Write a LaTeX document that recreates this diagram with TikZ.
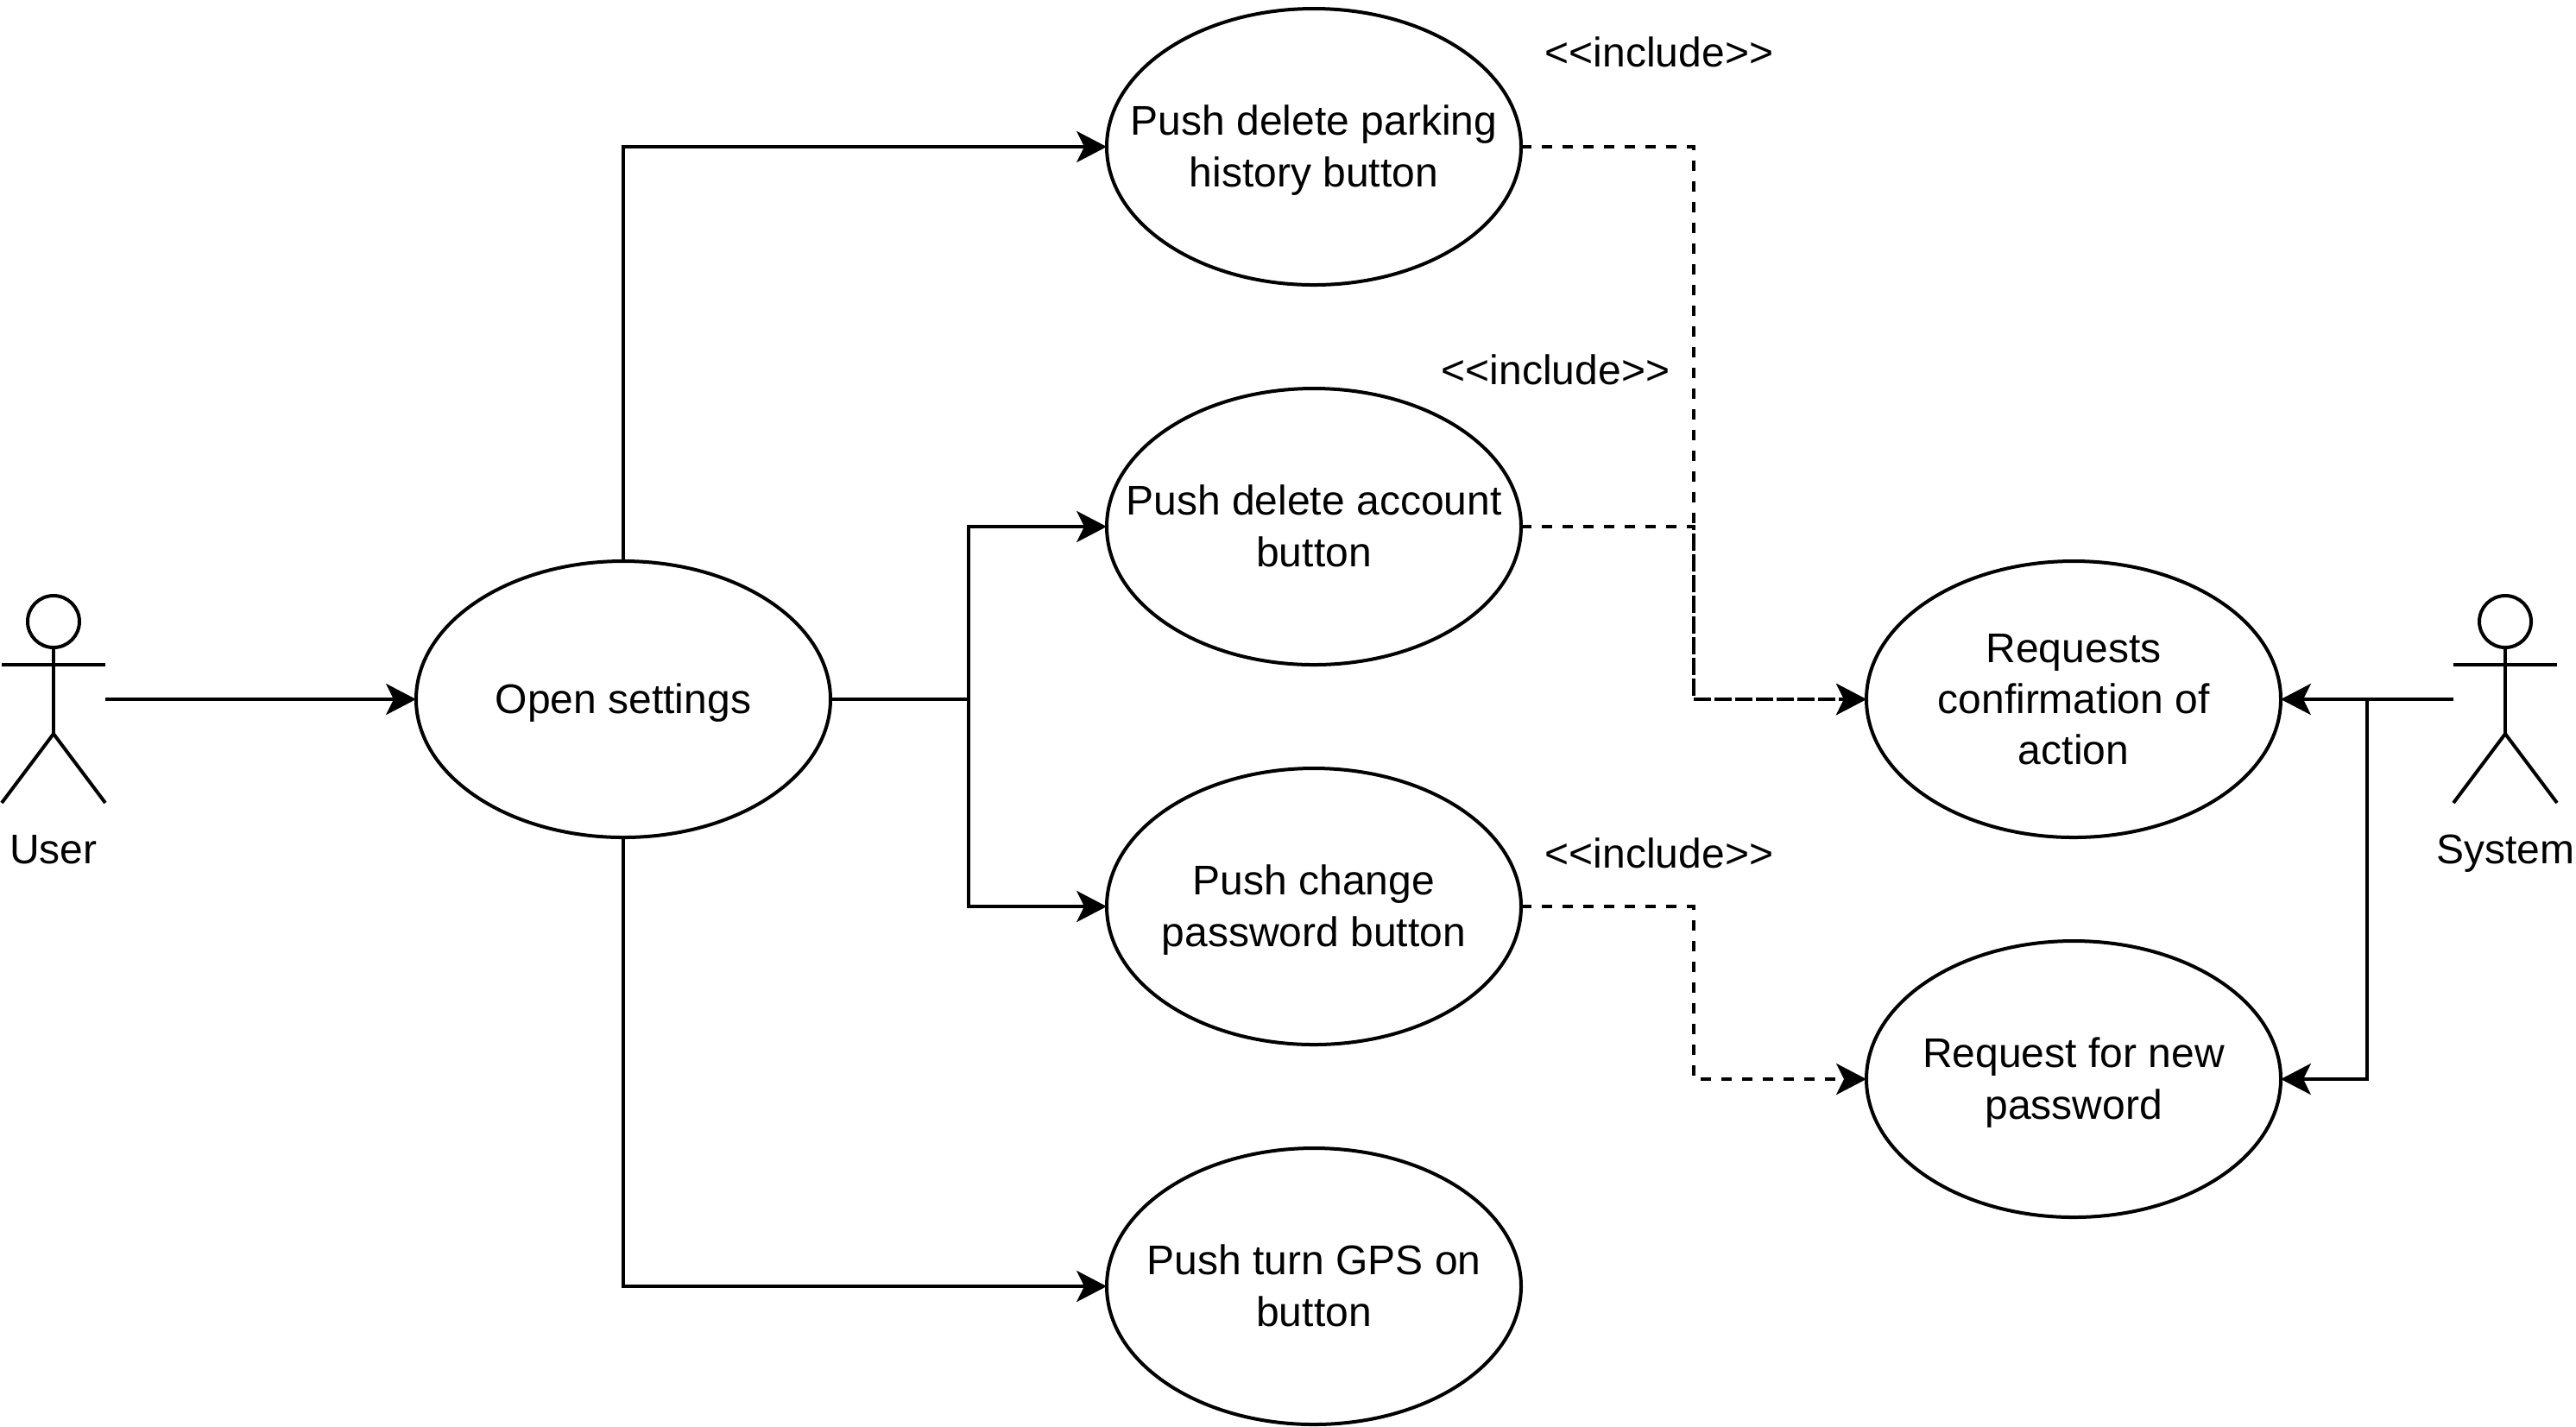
\documentclass[tikz,border=0pt]{standalone}
\usepackage{fontspec}
\setmainfont{Liberation Sans}
\usepackage{tikz}
\usetikzlibrary{arrows.meta, positioning, shapes.geometric}
\newcommand{\firstln}{\rule{0pt}{11.2bp}}
\tikzset{
  usecase/.style={draw, ellipse, minimum width=120bp, minimum height=80bp, inner sep=-20bp, outer sep=0pt, align=center,
    execute at begin node={\rule{0pt}{11bp}}, execute at end node={\rule[-3bp]{0pt}{3bp}}},
  actorbox/.style={minimum width=30bp, minimum height=60bp, inner sep=0pt, outer sep=0pt},
  actorname/.style={inner sep=0pt, execute at begin node=\strut},
  conn/.style={-{Stealth[length=8.7bp, width=9bp, inset=2.2bp]}},
  incl/.style={conn, dash pattern=on 3bp off 3bp},
  tagtext/.style={inner sep=0pt}
}

\begin{document}
\begin{tikzpicture}[x=1bp, y=-1bp, line width=1bp, font=\fontsize{12bp}{14.8bp}\selectfont]
  \useasboundingbox (0,0) rectangle (746,413);

  % actors
  \foreach \name/\cx/\txt in {user/15.5/User, sys/725.5/System} {
    \node[actorbox] (\name) at (\cx, 202.5) {};
    \node[actorname] (\name label) at (\cx, 247.1) {\txt};
    \draw (\cx, 180) circle[radius=7.5];
    \draw (\cx, 187.5) -- (\cx, 212.5);
    \draw (\cx-15, 192.5) -- (\cx+15, 192.5);
    \draw (\cx-15, 232.5) -- (\cx, 212.5) -- (\cx+15, 232.5);
  }

  % use cases
  \node[usecase] (open) at (180.5, 202.5) {Open settings};
  \node[usecase] (park) at (380.5, 42.5) {\firstln Push delete parking\\history button};
  \node[usecase] (acct) at (380.5, 152.5) {\firstln Push delete account\\button};
  \node[usecase] (pass) at (380.5, 262.5) {\firstln Push change\\password button};
  \node[usecase] (gps) at (380.5, 372.5) {\firstln Push turn GPS on\\button};
  \node[usecase] (req) at (600.5, 202.5) {\firstln Requests\\confirmation of\\action};
  \node[usecase] (newpw) at (600.5, 312.5) {\firstln Request for new\\password};

  % bends
  \coordinate (split) at (280.5, 202.5);
  \coordinate (confirm) at (490.5, 202.5);
  \coordinate (passdrop) at (490.5, 312.5);
  \coordinate (branch) at (685.5, 202.5);

  % user side
  \draw[conn] (user.east) -- (open.west);
  \draw[conn] (open.north) |- (park.west);
  \draw[conn] (open.south) |- (gps.west);
  \draw[conn] (open.east) -- (split) |- (acct.west);
  \draw[conn] (split) |- (pass.west);

  % include links
  \draw[incl] (park.east) -| (confirm) -- (req.west);
  \draw[incl] (acct.east) -| (confirm) -- (req.west);
  \draw[incl] (pass.east) -| (passdrop) -- (newpw.west);

  % system side
  \draw[conn] (sys.west) -- (req.east);
  \draw[conn] (branch) |- (newpw.east);

  % stereotypes
  \node[tagtext] (tagpark) at (480.5, 15) {<{}<include>{}>};
  \node[tagtext] (tagacct) at (450.5, 107) {<{}<include>{}>};
  \node[tagtext] (tagpass) at (480.5, 247) {<{}<include>{}>};
\end{tikzpicture}
\end{document}
